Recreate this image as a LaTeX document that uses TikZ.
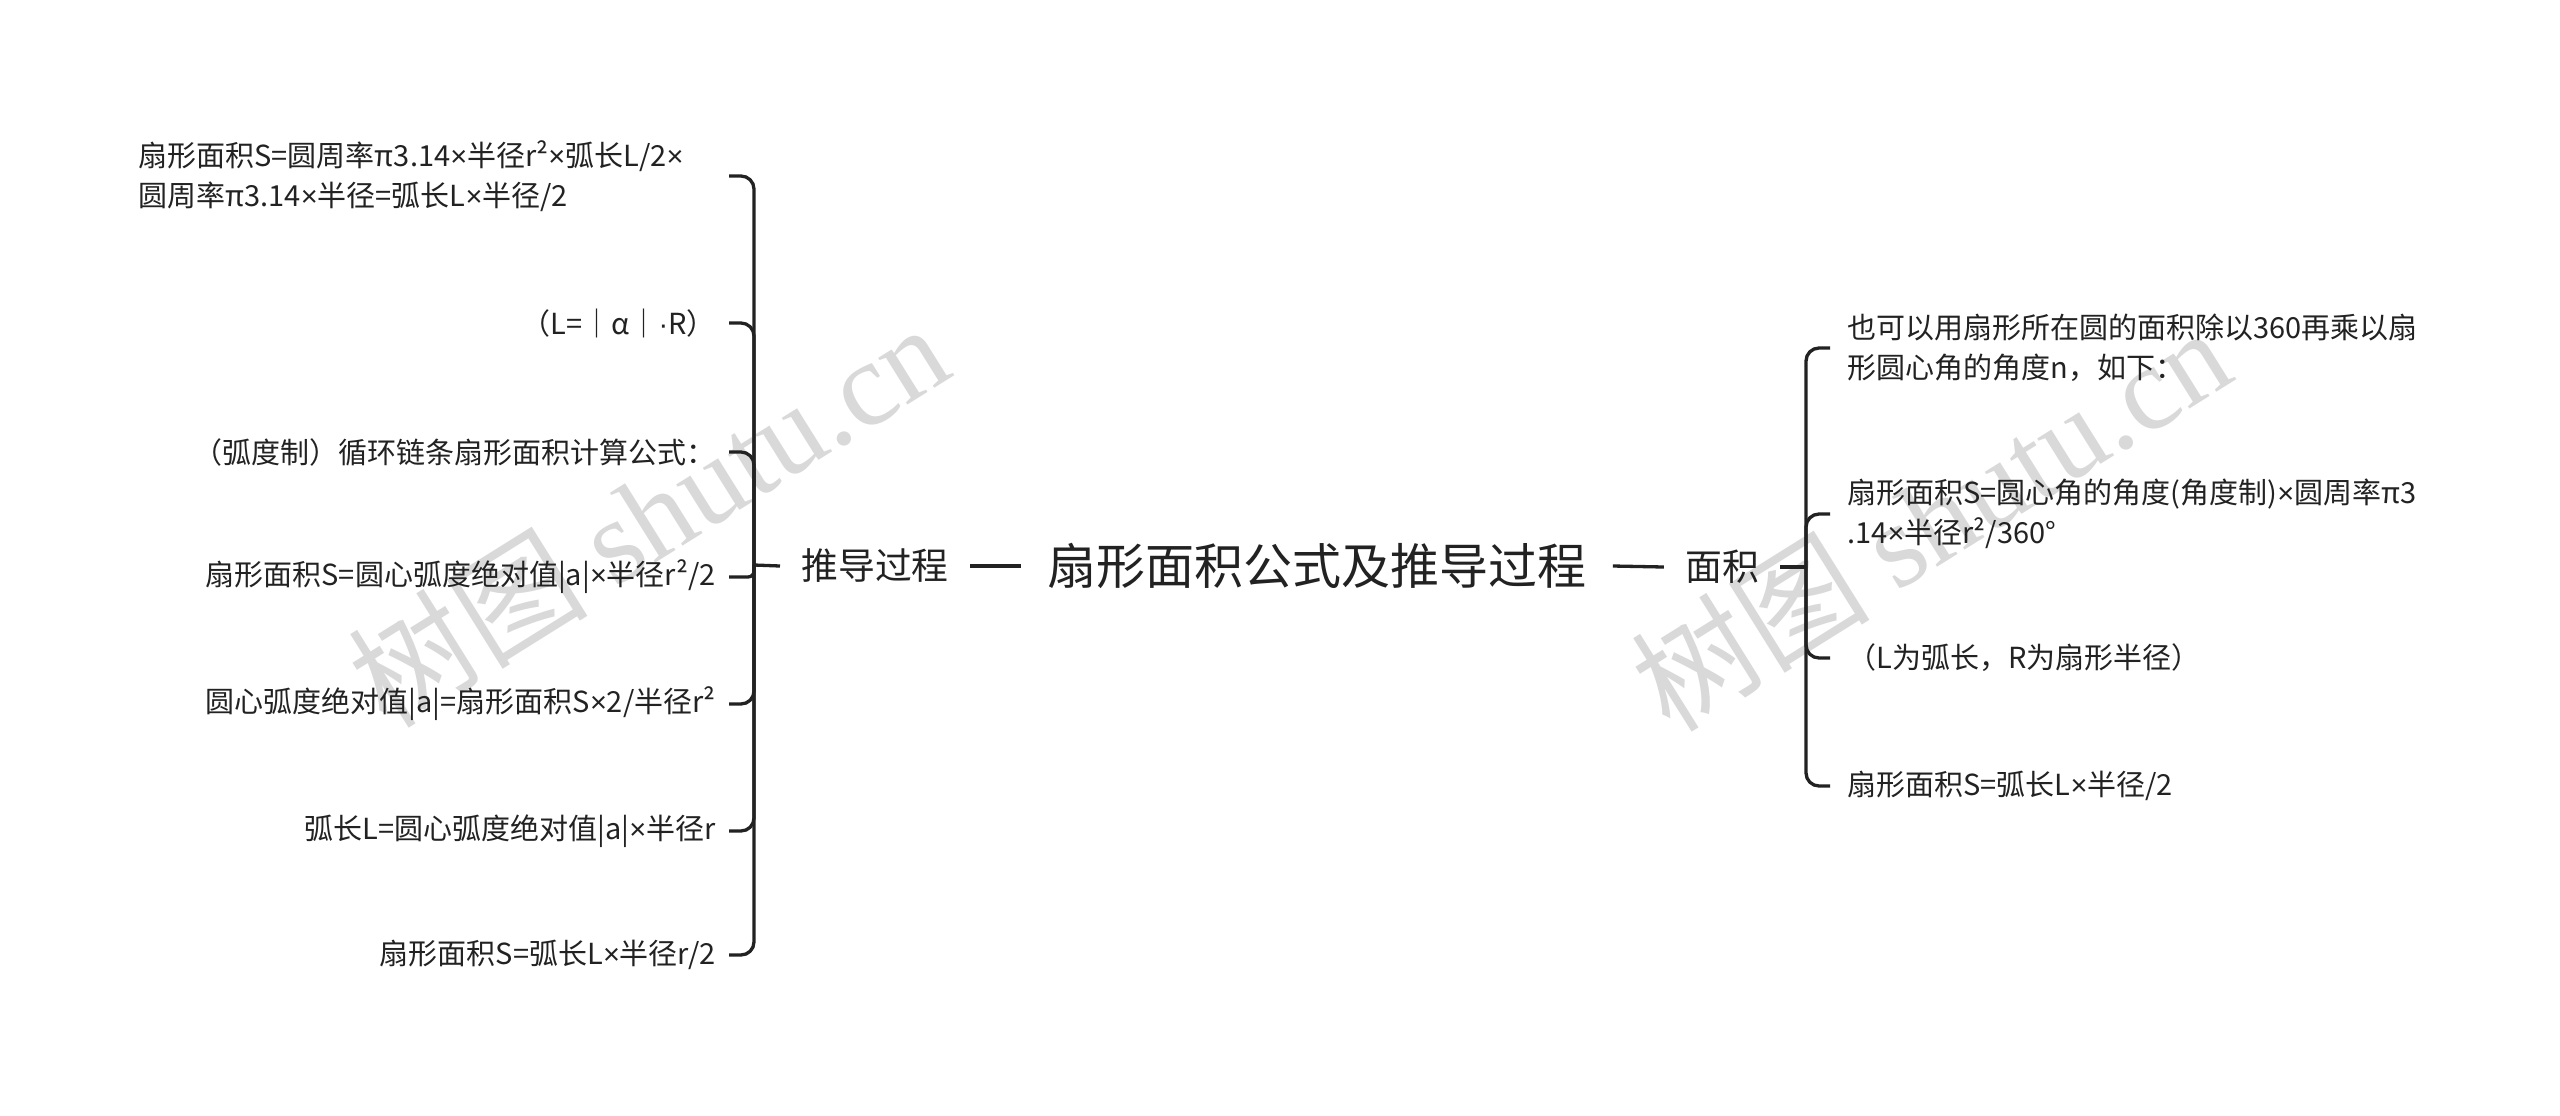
\documentclass[tikz,border=0pt]{standalone}
\usepackage{fontspec}
\setmainfont{Noto Sans CJK SC}
\newfontfamily\wmserif{Liberation Serif}
\newfontfamily\latinsans{Liberation Sans}
\newcommand\mytimes{{\latinsans ×}}
\newcommand\mydot{{\latinsans ·}}
\definecolor{ink}{HTML}{222222}
\definecolor{wmgray}{HTML}{D9D9D9}
\begin{document}
\begin{tikzpicture}[x=0.5pt,y=-0.5pt,
  every node/.style={text=ink, inner ysep=0pt},
  titlebox/.style={font=\fontsize{24.5pt}{30pt}\selectfont, inner xsep=13pt},
  branchbox/.style={font=\fontsize{18.4pt}{22pt}\selectfont, inner xsep=10.5pt},
  leafL/.style={font=\fontsize{14.5pt}{20pt}\selectfont, anchor=east, inner xsep=6.5pt, align=right},
  leafR/.style={font=\fontsize{14.5pt}{20pt}\selectfont, anchor=west, inner xsep=8.5pt, align=left},
  link/.style={draw=ink, line width=1.65pt},
  fork/.style={link, rounded corners=6.5pt},
  wmark/.style={text=wmgray, rotate=32, font=\fontsize{60pt}{60pt}\selectfont}
]
\useasboundingbox[fill=white] (0,0) rectangle (2560,1115);

% watermarks
\node[wmark] (wm1) at (648,514) {树图 {\wmserif shutu.cn}};
\node[wmark] (wm2) at (1930,518) {树图 {\wmserif shutu.cn}};

% main nodes
\node[titlebox] (title) at (1317,566) {扇形面积公式及推导过程};
\node[branchbox] (tuidao) at (875,566) {推导过程};
\node[branchbox] (mianji) at (1722,567) {面积};

\coordinate (J1) at (754,565);
\coordinate (J2) at (1806,567);

% left leaves
\node[leafL, text width=288.5pt, align=left] (l1) at (729,176)
  {扇形面积S=圆周率π3.14\mytimes 半径r²\mytimes 弧长L/2\mytimes\\圆周率π3.14\mytimes 半径=弧长L\mytimes 半径/2};
\node[leafL] (l2) at (729,323) {（L=｜α｜\mydot R）};
\node[leafL] (l3) at (729,452) {（弧度制）循环链条扇形面积计算公式：};
\node[leafL] (l4) at (729,577) {扇形面积S=圆心弧度绝对值|a|\mytimes 半径r²/2};
\node[leafL] (l5) at (729,704) {圆心弧度绝对值|a|=扇形面积S\mytimes 2/半径r²};
\node[leafL] (l6) at (729,831) {弧长L=圆心弧度绝对值|a|\mytimes 半径r};
\node[leafL] (l7) at (729,955) {扇形面积S=弧长L\mytimes 半径r/2};

% right leaves
\node[leafR] (r1) at (1830,348)
  {也可以用扇形所在圆的面积除以360再乘以扇\\形圆心角的角度n，如下：};
\node[leafR] (r2) at (1830,514)
  {扇形面积S=圆心角的角度(角度制)\mytimes 圆周率π3\\.14\mytimes 半径r²/360°};
\node[leafR] (r3) at (1830,658) {（L为弧长，R为扇形半径）};
\node[leafR] (r4) at (1830,786) {扇形面积S=弧长L\mytimes 半径/2};

% connectors
\draw[link] (tuidao.east) -- (title.west);
\draw[link] (title.east) -- (mianji.west);
\draw[link] (tuidao.west) -- (J1);
\draw[link] (mianji.east) -- (J2);
\foreach \n in {l1,l2,l3,l5,l6,l7} \draw[fork] (J1) |- (\n.east);
\draw[link, rounded corners=3pt] (J1) |- (l4.east);
\foreach \n in {r1,r2,r3,r4} \draw[fork] (J2) |- (\n.west);
\end{tikzpicture}
\end{document}
